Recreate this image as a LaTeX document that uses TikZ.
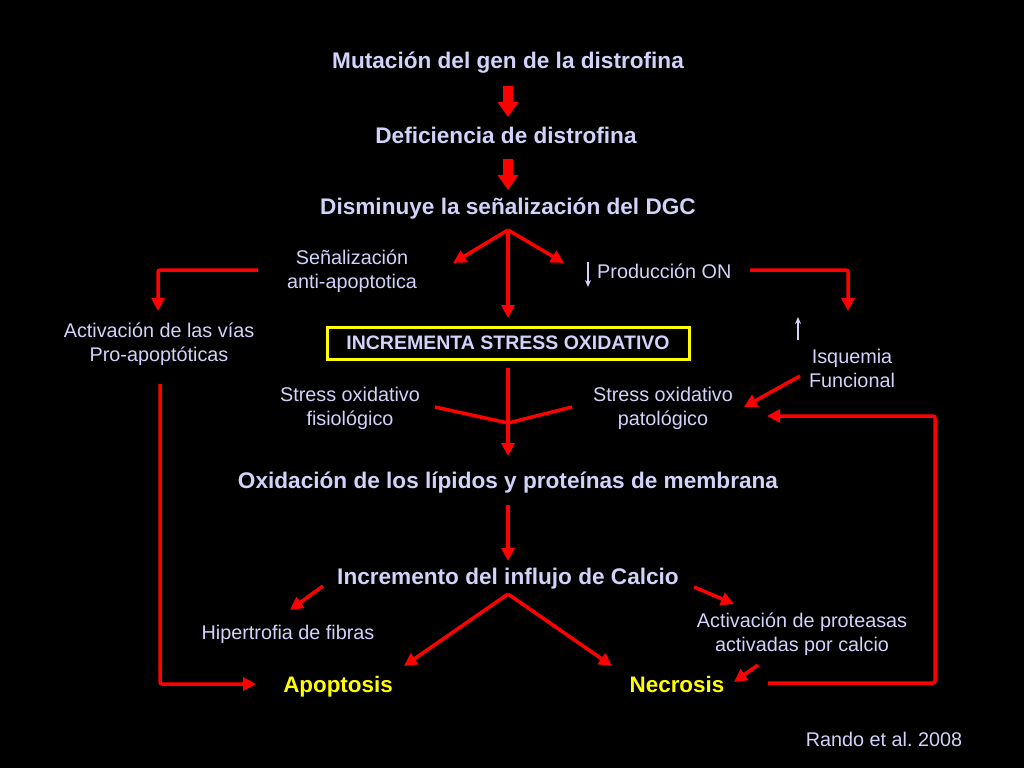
\documentclass[tikz,border=0pt]{standalone}
\usepackage{fontspec}
\setmainfont{Liberation Sans}
\usetikzlibrary{arrows.meta}
\definecolor{txt}{RGB}{210,210,250}
\definecolor{rd}{RGB}{255,0,0}
\definecolor{yl}{RGB}{255,255,0}
\frenchspacing
\begin{document}
\begin{tikzpicture}[x=1pt,y=-1pt,
 lab/.style={text=txt,font=\fontsize{19.8}{24}\selectfont,align=center,inner sep=0pt},
 head/.style={text=txt,font=\bfseries\fontsize{22.6}{26}\selectfont,inner sep=0pt},
 fin/.style={text=yl,font=\bfseries\fontsize{22.4}{26}\selectfont,inner sep=0pt,anchor=base},
 rarr/.style={draw=rd,line width=3.5pt,rounded corners=2pt,-{Triangle[length=13pt,width=13pt]}},
 rline/.style={draw=rd,line width=3.5pt},
 blk/.style={draw=rd,line width=10pt,-{Triangle[length=15pt,width=20pt]}},
 tiny/.style={draw=txt,line width=1.2pt,-{Stealth[length=7pt,width=6pt]}}]
\fill[black] (0,0) rectangle (1024,768);
\useasboundingbox (0,0) rectangle (1024,768);

% main chain
\node[head] (mut) at (508,63) {Mutación del gen de la distrofina};
\node[head] (def) at (506,135) {Deficiencia de distrofina};
\node[head] (dis) at (508,209) {Disminuye la señalización del DGC};
\node[draw=yl,line width=3pt,text=txt,font=\bfseries\fontsize{19.5}{22}\selectfont,
      minimum width=362pt,minimum height=32pt,inner sep=0pt] (inc) at (508,343) {INCREMENTA STRESS OXIDATIVO};
\node[head] (oxi) at (508,483) {Oxidación de los lípidos y proteínas de membrana};
\node[head] (cal) at (508,579) {Incremento del influjo de Calcio};
\node[fin] (apo) at (338,692) {Apoptosis};
\node[fin] (nec) at (677,692) {Necrosis};

% side labels
\node[lab] (sen) at (352,271) {Señalización\\anti-apoptotica};
\node[lab] (act) at (159,344) {Activación de las vías\\Pro-apoptóticas};
\node[lab,anchor=west] (pro) at (597,271) {Producción ON};
\node[lab] (isq) at (852,368) {Isquemia\\Funcional};
\node[lab] (fis) at (350,408) {Stress oxidativo\\fisiológico};
\node[lab] (pat) at (663,408) {Stress oxidativo\\patológico};
\node[lab] (hip) at (288,634) {Hipertrofia de fibras};
\node[lab] (pts) at (802,634) {Activación de proteasas\\activadas por calcio};
\node[lab] (ref) at (884,739) {Rando et al. 2008};

% block arrows
\draw[blk] (508,86) -- (508,117);
\draw[blk] (508,159) -- (508,190);

% fork from DGC
\coordinate (apex) at (508,230);
\coordinate (senT) at (453,263);
\coordinate (proT) at (564,263);
\coordinate (incT) at (508,318);
\draw[rarr] (apex) -- (senT);
\draw[rarr] (apex) -- (proT);
\draw[rarr] (apex) -- (incT);

% left elbow
\coordinate (l1) at (258,270);
\coordinate (l2) at (158,311);
\draw[rarr] (l1) -| (l2);
\coordinate (l3) at (160,384);
\coordinate (l4) at (256,684);
\draw[rarr] (l3) |- (l4);

% right elbow
\coordinate (r1) at (750,270);
\coordinate (r2) at (848,311);
\draw[rarr] (r1) -| (r2);

% small arrows
\draw[tiny] (588,262) -- (588,287);
\draw[tiny] (798,340) -- (798,317);

% isquemia to patologico
\coordinate (i1) at (800,376);
\coordinate (i2) at (744,407);
\draw[rarr] (i1) -- (i2);

% merge to oxidacion
\coordinate (m0) at (508,368);
\coordinate (mj) at (508,423);
\coordinate (mL) at (435,407);
\coordinate (mR) at (572,407);
\coordinate (mT) at (508,456);
\draw[rline,line join=round] (mL) -- (mj) -- (mR);
\draw[rarr] (m0) -- (mT);

% loop from necrosis to patologico
\coordinate (n1) at (768,683);
\coordinate (n2) at (935,683);
\coordinate (n3) at (767,416);
\draw[rarr] (n1) -- (n2) |- (n3);

% oxidacion to calcio
\coordinate (o1) at (508,505);
\coordinate (o2) at (508,561);
\draw[rarr] (o1) -- (o2);

% calcio branches
\coordinate (h1) at (323,586);
\coordinate (h2) at (290,610);
\draw[rarr] (h1) -- (h2);
\coordinate (p1) at (694,587);
\coordinate (p2) at (734,604);
\draw[rarr] (p1) -- (p2);
\coordinate (capex) at (508,594);
\coordinate (aT) at (404,666);
\coordinate (nT) at (612,666);
\draw[rarr] (capex) -- (aT);
\draw[rarr] (capex) -- (nT);
\coordinate (q1) at (758,665);
\coordinate (q2) at (734,682);
\draw[rarr] (q1) -- (q2);
\end{tikzpicture}
\end{document}
